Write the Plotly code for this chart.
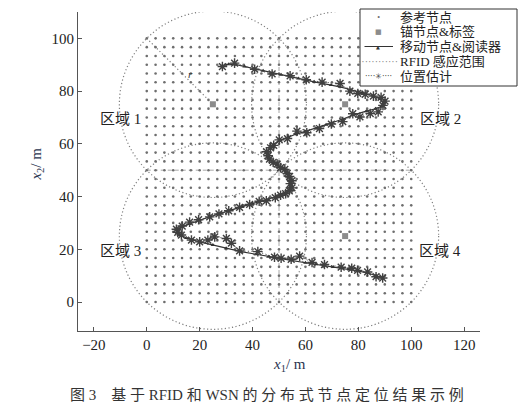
import numpy as np
import plotly.graph_objects as go

# reference node grid (31 x 31 points over 0..100)
grid_vals = [round(i * 100 / 30, 4) for i in range(31)]
# anchor nodes & tags
anchor_x = [25, 75, 25, 75]
anchor_y = [75, 75, 25, 25]
rfid_range = 35.36
region_labels = ["区域 1", "区域 2", "区域 3", "区域 4"]
region_x = [-10, 111, -10, 111]
region_y = [69.5, 69.5, 19.3, 19.3]
divider_pos = 50

# mobile node & reader path
path_x = [28.6, 31, 33.5, 37, 40.8, 44, 47.4, 50.8, 54.2, 57.3, 60.3, 63.3, 66.3, 69.7, 73.1, 77.2,
          81.4, 85.7, 88.2, 89.5, 88.8, 86.5, 83, 78, 74, 70, 67.8, 64, 60, 56.5, 53.5, 50.5, 48,
          46.4, 45.6, 46, 47.5, 49.5, 51.2, 52.8, 53.8, 54.4, 54.6, 54.2, 53, 51, 48.9, 46, 43.9,
          40, 36, 32, 28, 24, 20, 16, 13, 11.5, 11.4, 12.5, 15, 17.5, 20, 25, 30, 35.7, 41.4, 46,
          50.2, 54.6, 60, 64, 67.2, 70.5, 73.5, 76.5, 79.7, 83.5, 86.7, 89.2]
path_y = [89.6, 90.2, 90.1, 89.3, 88.5, 87.7, 86.9, 86.2, 85.5, 84.8, 84.1, 83.5, 82.9, 82.3, 81.6, 80.5,
          79.4, 78.2, 77, 75.6, 74.2, 73.3, 72.4, 70.9, 69.3, 68, 67.2, 65.8, 64.7, 63.7, 62.6, 61.3, 59.8,
          58, 56.3, 54.6, 53.2, 51.9, 50.6, 49.1, 47.5, 45.8, 44.2, 42.8, 41.5, 40.6, 39.9, 39, 38.4,
          37.4, 36.2, 35, 33.7, 32.4, 31, 29.6, 28.4, 27.4, 26.3, 25.3, 24.3, 23.5, 22.8, 21.6, 20.4, 19.1, 18.1, 17.2,
          16.5, 15.8, 14.9, 14.3, 13.8, 13.3, 12.8, 12.3, 11.8, 11, 10, 9.2]

# position estimates
est_x = [28.6, 33.2, 40.8, 47.4, 54.2, 60.3, 66.3, 73.1, 76.8, 79.8, 82.6, 85.7, 88.6, 90.1, 89.3, 87.5,
         84.5, 80.6, 77.9, 74.1, 69.8, 65.3, 60.5, 56.8, 53.2, 50.1, 48.0, 46.8, 45.3, 45.9, 46.4, 47.8,
         49.3, 50.6, 52.2, 53.1, 54.0, 54.9, 54.3, 54.9, 53.9, 52.5, 50.6, 48.6, 45.2, 42.5, 38.9, 35.1,
         31.0, 27.3, 23.8, 19.6, 16.2, 13.4, 11.2, 11.7, 13.1, 16.9, 20.0, 23.1, 25.7, 30.1, 32.0, 35.1,
         42.0, 48.3, 50.8, 54.6, 57.8, 62.5, 67.2, 73.5, 77.5, 79.7, 83.5, 86.7, 89.2]
est_y = [89.3, 90.6, 88.3, 86.5, 85.8, 84.3, 83.4, 82.9, 80.0, 79.1, 78.8, 78.1, 77.6, 76.2, 74.6, 72.1,
         71.5, 70.2, 71.4, 68.4, 67.5, 65.8, 64.2, 64.8, 62.0, 61.5, 59.4, 58.5, 57.0, 55.5, 54.2, 53.0,
         52.3, 51.0, 50.3, 48.8, 47.6, 46.0, 44.9, 43.3, 42.2, 41.1, 40.5, 39.6, 38.4, 38.2, 37.0, 35.9,
         34.6, 33.4, 32.3, 31.2, 30.3, 28.8, 27.6, 26.4, 25.4, 23.5, 22.8, 23.5, 24.7, 24.1, 22.3, 19.4,
         19.1, 17.0, 16.6, 16.2, 17.4, 15.0, 14.2, 13.2, 12.8, 12.0, 11.4, 9.6, 9.1]

x_ticks = [-20, 0, 20, 40, 60, 80, 100, 120]
y_ticks = [0, 20, 40, 60, 80, 100]

legend_names = ["参考节点", "锚节点&标签", "移动节点&阅读器", "RFID 感应范围", "位置估计"]

FONT = "Liberation Serif, Times New Roman, Noto Sans CJK SC, serif"
SYMF = "DejaVu Sans, Liberation Serif, sans-serif"
GRID_C = "#6e6e6e"
CIRC_C = "#7f7f7f"
DARK = "#333333"
DOT = "1.2px,2.4px"

# layout geometry (figure 518x397; main plot 402x319 px)
W, H = 518, 397
ML, MR, MT, MB = 70, 5, 0, 74
PW, PH = W - ML - MR, H - MT - MB
main_xdom = [0, 402 / PW]
main_ydom = [0, 319 / PH]


def px_x(fx):  # figure px -> paper x
    return (fx - ML) / PW


def px_y(fy):  # figure px (from top) -> paper y
    return 1 - (fy - MT) / PH


# legend box (figure px)
LB_X0, LB_X1, LB_Y0, LB_Y1 = 352, 509, 1, 78
leg_rows_px = [9.5, 24, 38.5, 53.5, 68]
KEY_L_PX, KEY_C_PX, KEY_R_PX, TXT_PX = 355, 370, 385, 390

gx, gy = np.meshgrid(grid_vals, grid_vals)

fig = go.Figure()
fig.add_trace(go.Scatter(x=gx.ravel(), y=gy.ravel(), mode="markers", name=legend_names[0],
                         marker=dict(size=2.6, color=GRID_C), hoverinfo="skip"))
fig.add_trace(go.Scatter(x=anchor_x, y=anchor_y, mode="markers", name=legend_names[1],
                         marker=dict(symbol="square", size=6, color="#8c8c8c")))
fig.add_trace(go.Scatter(x=path_x, y=path_y, mode="lines+markers", name=legend_names[2],
                         line=dict(color=DARK, width=1.2),
                         marker=dict(symbol="triangle-up", size=4, color=DARK)))
fig.add_trace(go.Scatter(x=est_x, y=est_y, mode="lines+markers", name=legend_names[4],
                         line=dict(color="#555555", width=1, dash=DOT),
                         marker=dict(symbol="asterisk-open", size=8, color="#404040",
                                     line=dict(color="#404040", width=1.4))))

# RFID ranges
for cx, cy in zip(anchor_x, anchor_y):
    fig.add_shape(type="circle", xref="x", yref="y",
                  x0=cx - rfid_range, x1=cx + rfid_range, y0=cy - rfid_range, y1=cy + rfid_range,
                  line=dict(color=CIRC_C, width=1.2, dash=DOT), layer="below")
# radius line r in region 1
fig.add_shape(type="line", xref="x", yref="y", x0=0, y0=100, x1=anchor_x[0], y1=anchor_y[0],
              line=dict(color=CIRC_C, width=1.2, dash=DOT), layer="below")
fig.add_annotation(x=16.5, y=86.5, xref="x", yref="y", text="<i>r</i>", showarrow=False,
                   font=dict(family=FONT, size=11, color="#333"))
# divider lines
fig.add_shape(type="line", xref="x", yref="y", x0=divider_pos, x1=divider_pos, y0=0, y1=100,
              line=dict(color="#a8a8a8", width=1, dash="4px,3px"), layer="below")
fig.add_shape(type="line", xref="x", yref="y", x0=0, x1=100, y0=divider_pos, y1=divider_pos,
              line=dict(color="#a8a8a8", width=1, dash="4px,3px"), layer="below")

for t, xx, yy in zip(region_labels, region_x, region_y):
    fig.add_annotation(x=xx, y=yy, xref="x", yref="y", text=t, showarrow=False,
                       font=dict(family=FONT, size=15, color="#222"))

# axis titles & caption (relative to main plot domain)
fig.add_annotation(x=0.527, y=-0.107, xref="x domain", yref="y domain", text="<i>x</i><sub>1</sub>/ m",
                   xanchor="center", yanchor="middle",
                   showarrow=False, font=dict(family=FONT, size=15, color="#2b3550"))
fig.add_annotation(x=-0.103, y=0.5235, xref="x domain", yref="y domain", text="<i>x</i><sub>2</sub>/ m",
                   xanchor="center", yanchor="middle",
                   showarrow=False, textangle=-90, font=dict(family=FONT, size=15, color="#2b3550"))
fig.add_annotation(x=0.469, y=-0.2, xref="x domain", yref="y domain",
                   text="图 3　基 于 RFID 和 WSN 的 分 布 式 节 点 定 位 结 果 示 例",
                   xanchor="center", yanchor="middle",
                   showarrow=False, font=dict(family=FONT, size=15, color="#333"))

# ---- legend box: paper shape drawn above the traces, keys/text as annotations on top ----
fig.add_shape(type="rect", xref="paper", yref="paper",
              x0=px_x(LB_X0), x1=px_x(LB_X1), y0=px_y(LB_Y1), y1=px_y(LB_Y0),
              line=dict(color="#333", width=1), fillcolor="white", opacity=1, layer="above")
key_y = [px_y(v) for v in leg_rows_px]
kx = px_x(KEY_C_PX)
fig.add_annotation(x=kx, y=key_y[0], xref="paper", yref="paper", text="·", showarrow=False,
                   xanchor="center", yanchor="middle", font=dict(family=FONT, size=16, color=GRID_C))
fig.add_annotation(x=kx, y=key_y[1], xref="paper", yref="paper", text="■", showarrow=False,
                   xanchor="center", yanchor="middle", font=dict(family=SYMF, size=7, color="#8c8c8c"))
fig.add_annotation(x=px_x(KEY_R_PX), y=key_y[2], xref="paper", yref="paper", text="",
                   showarrow=True, arrowhead=0, arrowwidth=1.2, arrowcolor=DARK,
                   ax=KEY_L_PX - KEY_R_PX, ay=0, standoff=0, startstandoff=0)
fig.add_annotation(x=kx, y=key_y[2], xref="paper", yref="paper", text="▲", showarrow=False,
                   xanchor="center", yanchor="middle", font=dict(family=SYMF, size=5, color=DARK))
fig.add_annotation(x=kx, y=key_y[3], xref="paper", yref="paper", text="············", showarrow=False,
                   xanchor="center", yanchor="middle", font=dict(family=FONT, size=10, color=CIRC_C))
fig.add_annotation(x=kx, y=key_y[4], xref="paper", yref="paper", text="····✳····", showarrow=False,
                   xanchor="center", yanchor="middle", font=dict(family=SYMF, size=8, color="#404040"))
for name, ry in zip(legend_names, key_y):
    fig.add_annotation(x=px_x(TXT_PX), y=ry, xref="paper", yref="paper", text=name, showarrow=False,
                       xanchor="left", yanchor="middle",
                       font=dict(family=FONT, size=13, color="#222"))

axis_common = dict(showgrid=False, zeroline=False, showline=True, linecolor="#555", linewidth=1,
                   ticks="inside", ticklen=4, tickcolor="#555",
                   tickfont=dict(family=FONT, size=15, color="#222"))
fig.update_layout(
    xaxis=dict(domain=main_xdom, range=[-26, 126], tickvals=x_ticks, **axis_common),
    yaxis=dict(domain=main_ydom, range=[-11, 110], tickvals=y_ticks, **axis_common),
    width=W, height=H, margin=dict(l=ML, r=MR, t=MT, b=MB, autoexpand=False),
    plot_bgcolor="white", paper_bgcolor="white",
    showlegend=False,
)

fig.write_html("out.html")
